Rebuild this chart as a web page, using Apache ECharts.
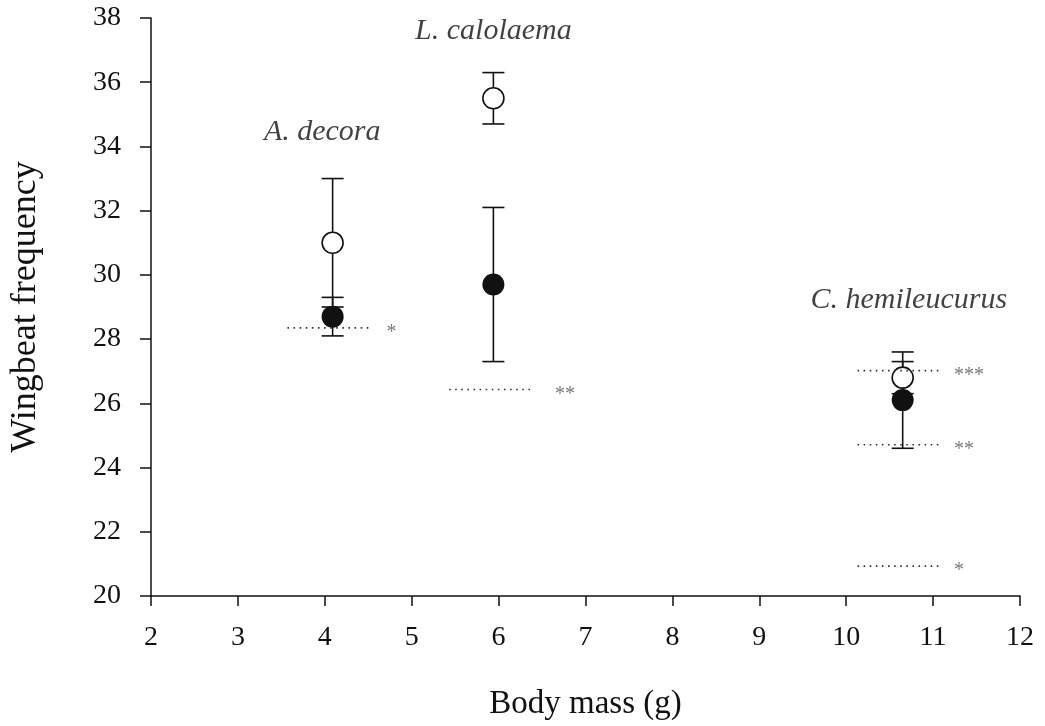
<!DOCTYPE html>
<html>
<head>
<meta charset="utf-8">
<script src="https://cdn.jsdelivr.net/npm/echarts@6/dist/echarts.min.js"></script>
<style>html,body{margin:0;padding:0;background:#fff}#c{width:1045px;height:726px}</style>
</head>
<body>
<div id="c"></div>
<script>
var species = ['A. decora', 'L. calolaema', 'C. hemileucurus'];
var bodyMass = [4.09, 5.94, 10.65];
var openMean = [31.0, 35.5, 26.8];
var openLow = [29.0, 34.7, 26.3];
var openHigh = [33.0, 36.3, 27.3];
var filledMean = [28.7, 29.7, 26.1];
var filledLow = [28.1, 27.3, 24.6];
var filledHigh = [29.3, 32.1, 27.6];
var speciesLabelX = [3.97, 5.94, 10.72];
var speciesLabelY = [34.46, 37.6, 29.2];
var sigY = [28.35, 26.43, 27.02, 24.71, 20.93];
var sigX0 = [3.57, 5.43, 10.13, 10.13, 10.13];
var sigX1 = [4.55, 6.40, 11.10, 11.10, 11.10];
var sigLabelX = [4.71, 6.65, 11.24, 11.24, 11.24];
var sigLabel = ['*', '**', '***', '**', '*'];
var xTicks = [2, 3, 4, 5, 6, 7, 8, 9, 10, 11, 12];
var yTicks = [20, 22, 24, 26, 28, 30, 32, 34, 36, 38];

var FONT = '"Liberation Serif", "DejaVu Serif", serif';
var chart = echarts.init(document.getElementById('c'));

function errData(low, high) {
  return bodyMass.map(function (x, i) { return [x, low[i], high[i]]; });
}
function errRender(params, api) {
  var x = api.value(0);
  var p1 = api.coord([x, api.value(1)]);
  var p2 = api.coord([x, api.value(2)]);
  var hw = 11;
  var st = { stroke: '#111', lineWidth: 1.6 };
  return {
    type: 'group',
    children: [
      { type: 'line', shape: { x1: p1[0], y1: p1[1], x2: p2[0], y2: p2[1] }, style: st },
      { type: 'line', shape: { x1: p1[0] - hw, y1: p1[1], x2: p1[0] + hw, y2: p1[1] }, style: st },
      { type: 'line', shape: { x1: p2[0] - hw, y1: p2[1], x2: p2[0] + hw, y2: p2[1] }, style: st }
    ]
  };
}

var series = [
  { type: 'custom', renderItem: errRender, data: errData(openLow, openHigh), z: 2, silent: true },
  { type: 'custom', renderItem: errRender, data: errData(filledLow, filledHigh), z: 2, silent: true },
  {
    type: 'scatter', symbol: 'circle', symbolSize: 21, z: 3,
    itemStyle: { color: '#fff', borderColor: '#111', borderWidth: 1.6, opacity: 1 },
    data: bodyMass.map(function (x, i) { return [x, openMean[i]]; })
  },
  {
    type: 'scatter', symbol: 'circle', symbolSize: 22, z: 3,
    itemStyle: { color: '#111', borderColor: '#111', borderWidth: 0, opacity: 1 },
    data: bodyMass.map(function (x, i) { return [x, filledMean[i]]; })
  },
  {
    type: 'scatter', symbolSize: 0, z: 5, silent: true,
    label: {
      show: true, position: 'inside', fontFamily: FONT, fontStyle: 'italic', fontSize: 30, color: '#111',
      formatter: function (p) { return species[p.dataIndex]; }
    },
    data: speciesLabelX.map(function (x, i) { return [x, speciesLabelY[i]]; })
  },
  {
    type: 'scatter', symbolSize: 0, z: 5, silent: true,
    label: {
      show: true, position: 'right', distance: 0, offset: [0, 5], fontFamily: FONT, fontSize: 20, color: '#555',
      formatter: function (p) { return sigLabel[p.dataIndex]; }
    },
    data: sigLabelX.map(function (x, i) { return [x, sigY[i]]; })
  }
];
sigY.forEach(function (y, i) {
  series.push({
    type: 'line', symbol: 'none', z: 4, silent: true,
    lineStyle: { color: '#333', width: 1.6, type: [1.6, 4.5] },
    data: [[sigX0[i], y], [sigX1[i], y]]
  });
});

chart.setOption({
  animation: false,
  backgroundColor: '#fff',
  grid: { left: 148, right: 25, top: 18, bottom: 123, containLabel: false },
  xAxis: {
    type: 'value', min: 2, max: 12, interval: 1,
    name: 'Body mass (g)', nameLocation: 'middle', nameGap: 92,
    nameTextStyle: { fontFamily: FONT, fontSize: 33, color: '#111' },
    axisLine: { lineStyle: { color: '#111', width: 1.5 } },
    axisTick: { show: true, length: 10, lineStyle: { color: '#111', width: 1.5 } },
    axisLabel: { fontFamily: FONT, fontSize: 28, color: '#111', margin: 28,
      formatter: function (v) { return xTicks.indexOf(v) >= 0 ? String(v) : ''; } },
    splitLine: { show: false }
  },
  yAxis: {
    type: 'value', min: 20, max: 38, interval: 2,
    name: 'Wingbeat frequency', nameLocation: 'middle', nameGap: 107, nameRotate: 90,
    nameTextStyle: { fontFamily: FONT, fontSize: 36, color: '#111' },
    axisLine: { show: true, lineStyle: { color: '#111', width: 1.5 } },
    axisTick: { show: true, length: 11, lineStyle: { color: '#111', width: 1.5 } },
    axisLabel: { fontFamily: FONT, fontSize: 28, color: '#111', margin: 30,
      formatter: function (v) { return yTicks.indexOf(v) >= 0 ? String(v) : ''; } },
    splitLine: { show: false }
  },
  series: series
});
</script>
</body>
</html>
